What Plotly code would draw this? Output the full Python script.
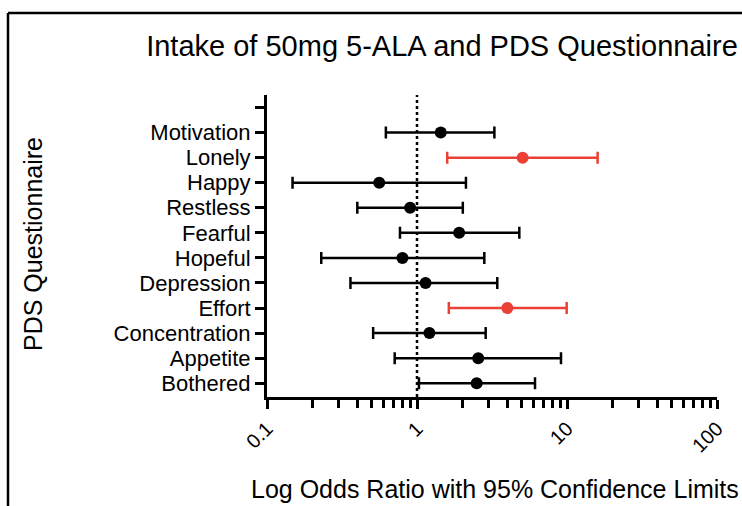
import plotly.graph_objects as go

# ---- data ----
categories = ["Bothered", "Appetite", "Concentration", "Effort", "Depression",
              "Hopeful", "Fearful", "Restless", "Happy", "Lonely", "Motivation"]
odds_ratio = [2.50, 2.56, 1.21, 4.00, 1.14, 0.80, 1.91, 0.90, 0.56, 5.06, 1.44]
ci_lower   = [1.03, 0.71, 0.51, 1.63, 0.36, 0.23, 0.77, 0.40, 0.148, 1.59, 0.62]
ci_upper   = [6.12, 9.12, 2.87, 9.95, 3.43, 2.81, 4.81, 2.02, 2.12, 16.0, 3.28]
significant = [False, False, False, True, False, False, False, False, False, True, False]

W, H = 742, 506
ML, MR, MT, MB = 267, 25, 95, 109
PW, PH = W - ML - MR, H - MT - MB
FONT = "Liberation Sans, Arial, Helvetica, sans-serif"
BLACK = "#000000"
RED = "#ea4036"

ypos = list(range(1, len(categories) + 1))

fig = go.Figure()
for sig, col in [(False, BLACK), (True, RED)]:
    idx = [i for i, s in enumerate(significant) if s == sig]
    fig.add_trace(go.Scatter(
        x=[odds_ratio[i] for i in idx],
        y=[ypos[i] for i in idx],
        mode="markers",
        marker=dict(color=col, size=12),
        error_x=dict(type="data", symmetric=False,
                     array=[ci_upper[i] - odds_ratio[i] for i in idx],
                     arrayminus=[odds_ratio[i] - ci_lower[i] for i in idx],
                     color=col, thickness=2.5, width=6),
        showlegend=False, cliponaxis=False,
    ))

def px_x(px):
    return (px - ML) / PW

def px_y(py):
    return (H - MB - py) / PH

fig.update_layout(
    width=W, height=H,
    margin=dict(l=ML, r=MR, t=MT, b=MB, autoexpand=False),
    paper_bgcolor="white", plot_bgcolor="white",
    font=dict(family=FONT, color=BLACK),
    title=dict(text="Intake of 50mg 5-ALA and PDS Questionnaire",
               font=dict(size=29, family=FONT, color=BLACK),
               xref="container", yref="container",
               x=442 / W, y=1 - 46 / H, xanchor="center", yanchor="middle"),
    xaxis=dict(type="log", range=[-1, 2], dtick=1,
               showgrid=False, zeroline=False,
               showline=True, linecolor=BLACK, linewidth=3,
               ticks="outside", ticklen=9, tickwidth=2.5, tickcolor=BLACK,
               tickangle=-45, tickfont=dict(size=20, family=FONT, color=BLACK),
               minor=dict(ticks="outside", ticklen=8, tickwidth=2.5,
                          tickcolor=BLACK, dtick="D1", showgrid=False)),
    yaxis=dict(range=[0.45, 12.5], tickmode="array",
               tickvals=ypos + [len(categories) + 1],
               ticktext=categories + [""],
               showgrid=False, zeroline=False,
               showline=True, linecolor=BLACK, linewidth=3,
               ticks="outside", ticklen=9, tickwidth=2.5, tickcolor=BLACK,
               tickfont=dict(size=22, family=FONT, color=BLACK)),
)

# reference line at odds ratio 1
fig.add_shape(type="line", xref="x", yref="paper", x0=1, x1=1, y0=0, y1=1,
              line=dict(color=BLACK, width=2.5, dash="dot"), layer="below")

# outer frame (left and top edges visible)
fig.add_shape(type="line", xref="paper", yref="paper",
              x0=px_x(8), x1=px_x(8), y0=px_y(13), y1=px_y(H + 20),
              line=dict(color=BLACK, width=2.5))
fig.add_shape(type="line", xref="paper", yref="paper",
              x0=px_x(8), x1=px_x(W + 20), y0=px_y(13), y1=px_y(13),
              line=dict(color=BLACK, width=2.5))

# axis titles
fig.add_annotation(text="Log Odds Ratio with 95% Confidence Limits",
                   xref="paper", yref="paper", x=px_x(495), y=px_y(489),
                   xanchor="center", yanchor="middle", showarrow=False,
                   font=dict(size=25, family=FONT, color=BLACK))
fig.add_annotation(text="PDS Questionnaire",
                   xref="paper", yref="paper", x=px_x(33), y=px_y(244),
                   xanchor="center", yanchor="middle", showarrow=False,
                   textangle=-90, font=dict(size=25, family=FONT, color=BLACK))

fig.write_html("out.html",
               config={"displayModeBar": False},
               post_script="document.body.style.margin='0';"
                           "document.body.style.overflow='hidden';")
